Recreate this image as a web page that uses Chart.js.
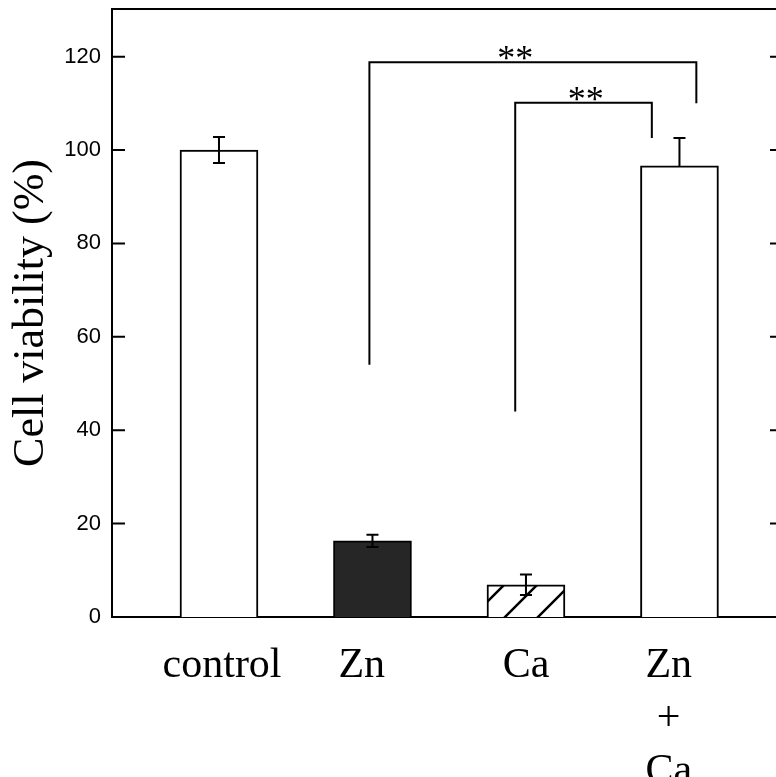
<!DOCTYPE html>
<html>
<head>
<meta charset="utf-8">
<script src="https://cdn.jsdelivr.net/npm/chart.js@4"></script>
<style>
  html, body { margin: 0; padding: 0; background: #fff; overflow: hidden; }
  #wrap { width: 790px; height: 777px; }
</style>
</head>
<body>
<div id="wrap"><canvas id="barChart" width="790" height="777"></canvas></div>
<script>
// values
const categories = ['control', 'Zn', 'Ca', ['Zn', '+', 'Ca']];
const viability = [100, 16.3, 6.9, 96.6];
const errUp = [2.8, 1.3, 2.2, 6.0];
const errDown = [2.8, 1.3, 2.2, 0];
const yTicks = [0, 20, 40, 60, 80, 100, 120];

// significance brackets (x in category units, y in %)
const brackets = [
    {from: 0.98, to: 3.11, top: 118.8, leftEnd: 54, rightEnd: 110, label: '**', labelAt: 1.93},
    {from: 1.93, to: 2.82, top: 110.1, leftEnd: 44, rightEnd: 102.6, label: '**', labelAt: 2.39},
];

// hatch for the Ca bar
function makeHatch() {
    const c = document.createElement('canvas');
    c.width = 33; c.height = 33;
    const g = c.getContext('2d');
    g.fillStyle = '#fff';
    g.fillRect(0, 0, 33, 33);
    g.strokeStyle = '#000';
    g.lineWidth = 2.5;
    g.beginPath();
    g.moveTo(0, 33); g.lineTo(33, 0);
    g.moveTo(-2, 2); g.lineTo(2, -2);
    g.moveTo(31, 35); g.lineTo(35, 31);
    g.stroke();
    return g.createPattern(c, 'repeat');
}

const ctx_bar = document.querySelector('#barChart').getContext('2d');

const fills = ['#ffffff', '#262626', makeHatch(), '#ffffff'];

const extras = {
    id: 'extras',
    afterDatasetsDraw(chart) {
        const {ctx, chartArea, scales: {x, y}} = chart;
        ctx.save();
        ctx.strokeStyle = '#000';
        ctx.fillStyle = '#000';
        ctx.lineWidth = 2;

        // top frame line
        ctx.beginPath();
        ctx.moveTo(chartArea.left, chartArea.top);
        ctx.lineTo(chartArea.right, chartArea.top);
        ctx.stroke();

        // inward tick marks, left and right
        yTicks.forEach(v => {
            const py = y.getPixelForValue(v);
            ctx.beginPath();
            ctx.moveTo(chartArea.left, py);
            ctx.lineTo(chartArea.left + 13, py);
            ctx.moveTo(chartArea.right, py);
            ctx.lineTo(chartArea.right - 8, py);
            ctx.stroke();
        });

        // error bars
        viability.forEach((v, i) => {
            const px = x.getPixelForValue(i);
            const hi = y.getPixelForValue(v + errUp[i]);
            const lo = y.getPixelForValue(v - errDown[i]);
            ctx.beginPath();
            ctx.moveTo(px, hi);
            ctx.lineTo(px, lo);
            ctx.moveTo(px - 6, hi);
            ctx.lineTo(px + 6, hi);
            if (errDown[i] > 0) {
                ctx.moveTo(px - 6, lo);
                ctx.lineTo(px + 6, lo);
            }
            ctx.stroke();
        });

        // significance brackets
        ctx.font = '36px "Liberation Serif", "Times New Roman", serif';
        ctx.textAlign = 'center';
        ctx.textBaseline = 'alphabetic';
        brackets.forEach(b => {
            const x1 = x.getPixelForValue(b.from);
            const x2 = x.getPixelForValue(b.to);
            const yt = y.getPixelForValue(b.top);
            ctx.beginPath();
            ctx.moveTo(x1, y.getPixelForValue(b.leftEnd));
            ctx.lineTo(x1, yt);
            ctx.lineTo(x2, yt);
            ctx.lineTo(x2, y.getPixelForValue(b.rightEnd));
            ctx.stroke();
            ctx.fillText(b.label, x.getPixelForValue(b.labelAt), yt + 8);
        });
        ctx.restore();
    }
};

const config_bar = {
    type: 'bar',
    data: {
        datasets: [{
            data: viability.map((v, i) => ({x: i, y: v})),
            backgroundColor: fills,
            borderColor: '#000',
            borderWidth: 2,
            barThickness: 78,
        }],
    },
    options: {
        responsive: false,
        animation: false,
        layout: {padding: {top: 9, right: 12, left: 0, bottom: 0}},
        plugins: {
            legend: {display: false},
            tooltip: {enabled: false},
        },
        scales: {
            x: {
                type: 'linear',
                offset: false,
                min: -0.697,
                max: 3.642,
                afterFit: s => {
                    s.height = 160;
                    s.paddingLeft = 0; s.paddingRight = 0;
                },
                afterBuildTicks: s => {
                    s.ticks = [{value: 0.02}, {value: 0.93}, {value: 2}, {value: 2.93}];
                },
                grid: {display: false, drawTicks: false},
                border: {display: true, color: '#000', width: 2},
                ticks: {
                    autoSkip: false,
                    maxRotation: 0,
                    padding: 22,
                    color: '#000',
                    font: {family: '"Liberation Serif", "Times New Roman", serif', size: 42, lineHeight: 1.27},
                    callback: v => categories[Math.round(v)],
                },
            },
            y: {
                min: 0,
                max: 130.2,
                afterFit: s => {
                    s.width = 112;
                    s.paddingTop = 0; s.paddingBottom = 0;
                },
                afterBuildTicks: s => { s.ticks = yTicks.map(v => ({value: v})); },
                grid: {display: false, drawTicks: false},
                border: {display: true, color: '#000', width: 2},
                ticks: {
                    padding: 11,
                    color: '#000',
                    font: {family: '"Liberation Sans", Arial, sans-serif', size: 22},
                },
                title: {
                    display: true,
                    text: 'Cell viability (%)',
                    color: '#000',
                    font: {family: '"Liberation Serif", "Times New Roman", serif', size: 44},
                    padding: {top: 5, bottom: 0},
                },
            },
        },
    },
    plugins: [extras],
};

new Chart(ctx_bar, config_bar);
</script>
</body>
</html>
